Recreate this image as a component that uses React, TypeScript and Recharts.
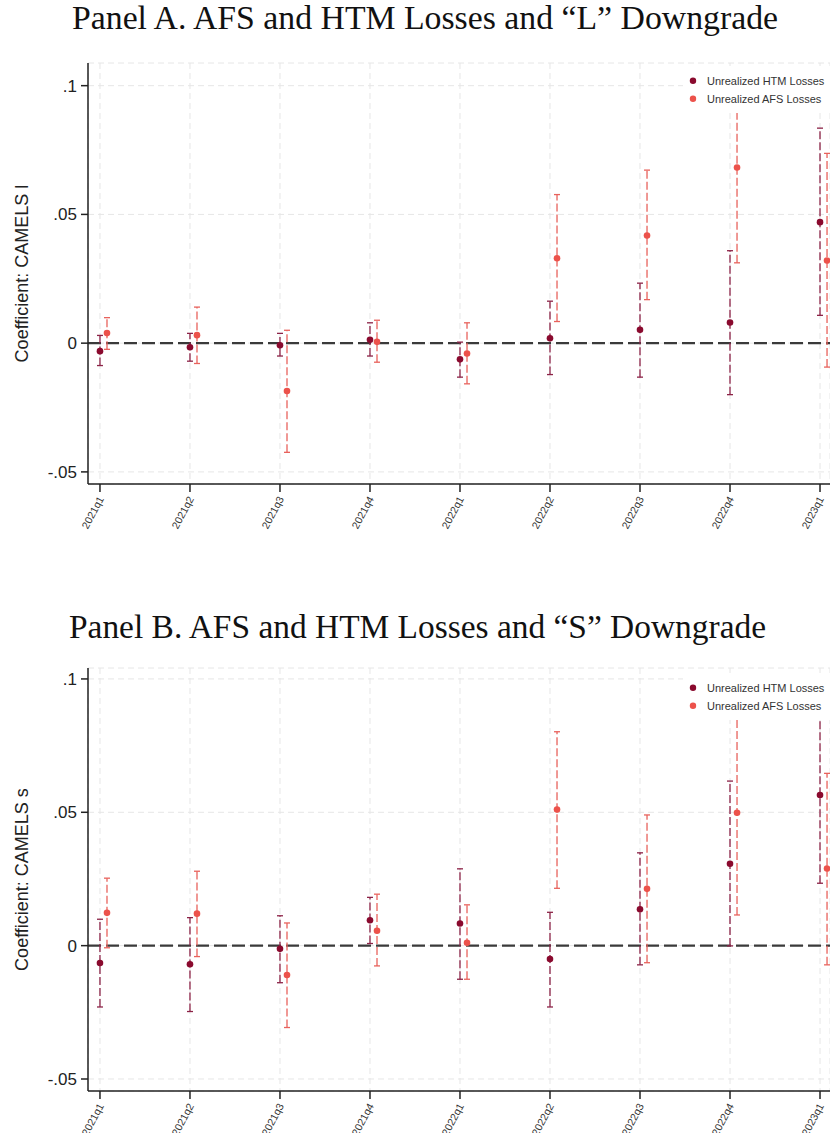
import React from 'react';
import { ScatterChart, Scatter, XAxis, YAxis, CartesianGrid, ErrorBar, ReferenceLine, Legend, Label } from 'recharts';

const QUARTERS = ['2021q1', '2021q2', '2021q3', '2021q4', '2022q1', '2022q2', '2022q3', '2022q4', '2023q1'];
const Y_TICKS = [-0.05, 0, 0.05, 0.1];

// Panel A: CAMELS l
const htmA = [-0.0031, -0.0016, -0.0008, 0.0013, -0.0063, 0.0019, 0.0052, 0.008, 0.047];
const htmALo = [-0.0087, -0.007, -0.005, -0.005, -0.0132, -0.0122, -0.0132, -0.02, 0.0108];
const htmAHi = [0.003, 0.0038, 0.0038, 0.0079, 0.0004, 0.0163, 0.0233, 0.0359, 0.0835];
const afsA = [0.0039, 0.0031, -0.0186, 0.0005, -0.004, 0.033, 0.0418, 0.0682, 0.0321];
const afsALo = [-0.0024, -0.0079, -0.0424, -0.0074, -0.0158, 0.0084, 0.0169, 0.0312, -0.0093];
const afsAHi = [0.0099, 0.014, 0.005, 0.0089, 0.0079, 0.0577, 0.0672, 0.105, 0.0737];

// Panel B: CAMELS s
const htmB = [-0.0065, -0.007, -0.0012, 0.0095, 0.0083, -0.005, 0.0136, 0.0307, 0.0565];
const htmBLo = [-0.023, -0.0247, -0.0139, 0.0008, -0.0126, -0.023, -0.0072, -0.0001, 0.0234];
const htmBHi = [0.0099, 0.0105, 0.0112, 0.0181, 0.0288, 0.0125, 0.0348, 0.0617, 0.0896];
const afsB = [0.0123, 0.012, -0.011, 0.0056, 0.0011, 0.051, 0.0213, 0.0498, 0.0289];
const afsBLo = [-0.0008, -0.0041, -0.0307, -0.0076, -0.0126, 0.0215, -0.0064, 0.0115, -0.0072];
const afsBHi = [0.0253, 0.0279, 0.0085, 0.0193, 0.0153, 0.0802, 0.049, 0.088, 0.0646];

const HTM_COLOR = '#8a0a2e';
const HTM_CI = '#8c2347';
const AFS_COLOR = '#ec524b';
const AFS_CI = '#e8625c';
const AFS_SHIFT = 0.078;
const SANS = '"Liberation Sans", Arial, sans-serif';
const SERIF = '"Liberation Serif", "Times New Roman", serif';

const toPoints = (coef: number[], lo: number[], hi: number[], shift: number) =>
  coef.map((c, i) => ({ x: i + shift, y: c, err: [c - lo[i], hi[i] - c] }));

const fmtY = (v: number) => {
  if (v === 0) return '0';
  const s = String(v);
  return s.replace('0.', '.');
};

const QuarterTick = (props: any) => {
  const { x, y, payload } = props;
  const ax = x + 1;
  const ay = y + 2;
  return (
    <text x={ax} y={ay} transform={`rotate(-62, ${ax}, ${ay})`} textAnchor="end" dy="0.35em"
      fontSize={10.5} fontFamily={SANS} fill="#333">
      {QUARTERS[payload.value]}
    </text>
  );
};

const Dot = (color: string) => (p: any) => <circle cx={p.cx} cy={p.cy} r={3.3} fill={color} />;

const LegendBox = () => (
  <svg width={147} height={47} style={{ display: 'block', background: '#fff' }}>
    <circle cx={10} cy={14.7} r={3.2} fill={HTM_COLOR} />
    <text x={24} y={14.7} dy="0.35em" fontSize={11} fontFamily={SANS} fill="#333">Unrealized HTM Losses</text>
    <circle cx={10} cy={32.7} r={3.2} fill={AFS_COLOR} />
    <text x={24} y={32.7} dy="0.35em" fontSize={11} fontFamily={SANS} fill="#333">Unrealized AFS Losses</text>
  </svg>
);

interface PanelProps {
  top: number;
  height: number;
  marginTop: number;
  xAxisHeight: number;
  domain: [number, number];
  yLabel: string;
  legendTop: number;
  htm: number[]; htmLo: number[]; htmHi: number[];
  afs: number[]; afsLo: number[]; afsHi: number[];
}

function CoefPanel(p: PanelProps) {
  const htmData = toPoints(p.htm, p.htmLo, p.htmHi, 0);
  const afsData = toPoints(p.afs, p.afsLo, p.afsHi, AFS_SHIFT);
  return (
    <div style={{ position: 'absolute', left: 0, top: p.top }}>
      <ScatterChart width={830} height={p.height} margin={{ top: p.marginTop, right: 0, bottom: 0, left: 0 }}>
        <CartesianGrid stroke="#e6e6e6" strokeDasharray="6 4" />
        <XAxis type="number" dataKey="x" domain={[-0.133, 8.111]} ticks={[0, 1, 2, 3, 4, 5, 6, 7, 8]}
          allowDataOverflow interval={0} height={p.xAxisHeight} tick={<QuarterTick />}
          tickSize={8} tickMargin={3} stroke="#222" strokeWidth={1.5} />
        <YAxis type="number" dataKey="y" domain={p.domain} ticks={Y_TICKS} allowDataOverflow width={88}
          tickFormatter={fmtY} tickSize={7} tickMargin={4} stroke="#222" strokeWidth={1.5}
          tick={{ fontSize: 17, fontFamily: SANS, fill: '#222' }}>
          <Label content={(lp: any) => {
            const vb = lp.viewBox || {};
            const cx = 22;
            const cy = (vb.y ?? 0) + (vb.height ?? 0) / 2;
            return (
              <text x={cx} y={cy} transform={`rotate(-90, ${cx}, ${cy})`} textAnchor="middle" dy="0.35em"
                fontSize={18} fontFamily={SANS} fill="#222">{p.yLabel}</text>
            );
          }} />
        </YAxis>
        <ReferenceLine y={0} stroke="#3a3a3a" strokeWidth={2.4} strokeDasharray="13 5" />
        <Scatter name="Unrealized HTM Losses" data={htmData} fill={HTM_COLOR} shape={Dot(HTM_COLOR)} isAnimationActive={false}>
          <ErrorBar dataKey="err" direction="y" width={3} stroke={HTM_CI} strokeWidth={1.3} strokeDasharray="8 3" isAnimationActive={false} />
        </Scatter>
        <Scatter name="Unrealized AFS Losses" data={afsData} fill={AFS_COLOR} shape={Dot(AFS_COLOR)} isAnimationActive={false}>
          <ErrorBar dataKey="err" direction="y" width={3} stroke={AFS_CI} strokeWidth={1.3} strokeDasharray="8 3" isAnimationActive={false} />
        </Scatter>
        <Legend layout="vertical" align="center" verticalAlign="middle" content={<LegendBox />}
          wrapperStyle={{ top: p.legendTop, left: 683, width: 147, height: 47 }} />
      </ScatterChart>
    </div>
  );
}

const Title = ({ text, x, y, width }: { text: string; x: number; y: number; width: number }) => (
  <svg width={830} height={y + 12} style={{ position: 'absolute', left: 0, top: 0 }}>
    <text x={x} y={y} textLength={width} lengthAdjust="spacingAndGlyphs" fontSize={33} fontFamily={SERIF} fill="#111">
      {text}
    </text>
  </svg>
);

export default function App() {
  return (
    <div style={{ position: 'absolute', left: 0, top: 0, width: 830, height: 1133, background: '#fff', overflow: 'hidden' }}>
      <Title text="Panel A. AFS and HTM Losses and “L” Downgrade" x={72} y={29} width={706} />
      <CoefPanel top={0} height={560} marginTop={63} xAxisHeight={76} domain={[-0.0547, 0.1088]}
        yLabel="Coefficient: CAMELS l" legendTop={66}
        htm={htmA} htmLo={htmALo} htmHi={htmAHi} afs={afsA} afsLo={afsALo} afsHi={afsAHi} />
      <div style={{ position: 'absolute', left: 0, top: 600, width: 830, height: 50 }}>
        <Title text="Panel B. AFS and HTM Losses and “S” Downgrade" x={69} y={38} width={697} />
      </div>
      <CoefPanel top={600} height={533} marginTop={68} xAxisHeight={42} domain={[-0.0545, 0.1041]}
        yLabel="Coefficient: CAMELS s" legendTop={72.6}
        htm={htmB} htmLo={htmBLo} htmHi={htmBHi} afs={afsB} afsLo={afsBLo} afsHi={afsBHi} />
    </div>
  );
}
